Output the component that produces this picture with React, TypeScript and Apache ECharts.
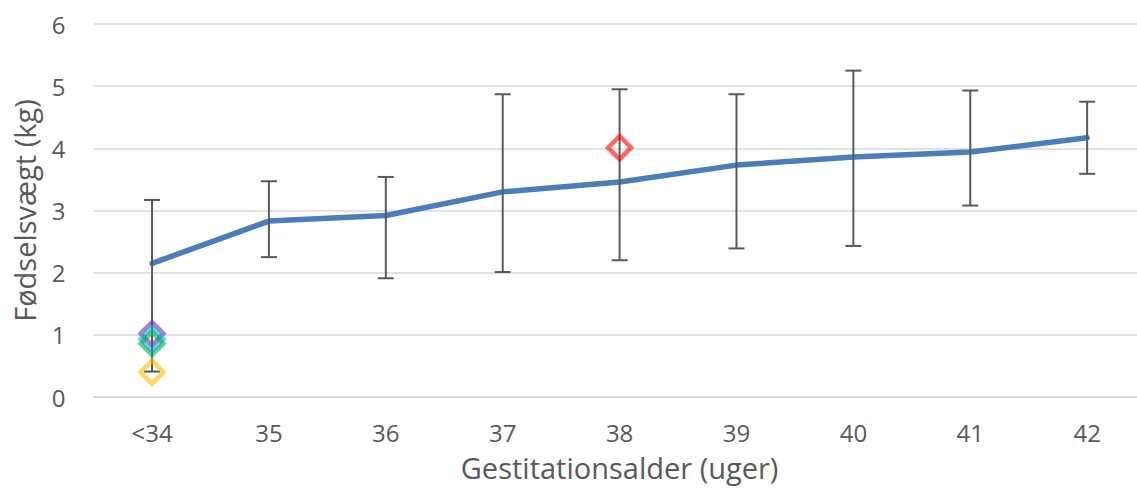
import React, { useEffect, useRef } from "react";
import * as echarts from "echarts";

const categories = ["<34", "35", "36", "37", "38", "39", "40", "41", "42"];
const meanWeight = [2.15, 2.83, 2.92, 3.3, 3.46, 3.73, 3.86, 3.94, 4.17];
const upperWeight = [3.17, 3.47, 3.54, 4.87, 4.95, 4.87, 5.25, 4.93, 4.75];
const lowerWeight = [0.41, 2.25, 1.91, 2.01, 2.2, 2.39, 2.43, 3.08, 3.59];
const yTicks = [0, 1, 2, 3, 4, 5, 6];

const caseCategories = ["<34", "<34", "<34", "<34", "38"];
const caseWeights = [1.02, 0.93, 0.86, 0.4, 4.01];
const caseColors = ["#7030a0", "#00b0f0", "#00b050", "#ffc000", "#ff0000"];

export default function App() {
  const ref = useRef<HTMLDivElement>(null);
  useEffect(() => {
    if (!ref.current) return;
    const chart = echarts.init(ref.current, null, { renderer: "svg" });
    const font = "'Open Sans', 'Noto Sans', sans-serif";
    const errData = categories.map((c, i) => [i, lowerWeight[i], upperWeight[i]]);
    chart.setOption({
      animation: false,
      grid: { left: 93.6, top: 24, width: 1052, height: 373, containLabel: false },
      xAxis: {
        type: "category",
        data: categories,
        boundaryGap: true,
        axisLine: { show: true, lineStyle: { color: "#d9d9d9", width: 1.5 } },
        axisTick: { show: false },
        axisLabel: { color: "#595959", fontSize: 24, fontFamily: font, margin: 23 },
        name: "Gestitationsalder (uger)",
        nameLocation: "middle",
        nameGap: 56,
        nameTextStyle: { color: "#595959", fontSize: 29, fontFamily: font },
      },
      yAxis: {
        type: "value",
        min: yTicks[0],
        max: yTicks[yTicks.length - 1],
        interval: 1,
        axisLine: { show: false },
        axisTick: { show: false },
        splitLine: { lineStyle: { color: "#d9d9d9", width: 1.5 } },
        axisLabel: { color: "#595959", fontSize: 24, fontFamily: font, margin: 28 },
        name: "Fødselsvægt (kg)",
        nameLocation: "middle",
        nameGap: 55,
        nameRotate: 90,
        nameTextStyle: { color: "#595959", fontSize: 29, fontFamily: font },
      },
      series: [
        {
          type: "line",
          data: meanWeight,
          symbol: "none",
          lineStyle: { color: "#4a7ebb", width: 5.5, cap: "round", join: "round" },
          z: 2,
        },
        {
          type: "custom",
          data: errData,
          z: 3,
          renderItem: (params: any, api: any) => {
            const x = api.value(0);
            const lo = api.coord([x, api.value(1)]);
            const hi = api.coord([x, api.value(2)]);
            const w = 8;
            const style = { stroke: "#595959", lineWidth: 2 };
            return {
              type: "group",
              children: [
                { type: "line", shape: { x1: lo[0], y1: lo[1], x2: hi[0], y2: hi[1] }, style },
                { type: "line", shape: { x1: hi[0] - w, y1: hi[1], x2: hi[0] + w, y2: hi[1] }, style },
                { type: "line", shape: { x1: lo[0] - w, y1: lo[1], x2: lo[0] + w, y2: lo[1] }, style },
              ],
            };
          },
        },
        ...caseWeights.map((v, i) => ({
          type: "scatter",
          data: [[caseCategories[i], v]],
          symbol: "diamond",
          symbolSize: 23,
          z: 4,
          itemStyle: {
            color: "rgba(255,255,255,0)",
            borderColor: caseColors[i],
            borderWidth: 4.5,
            opacity: 0.6,
          },
        })),
      ],
    });
    return () => chart.dispose();
  }, []);
  return (
    <div
      style={{ position: "fixed", left: 0, top: 0, width: 1137, height: 494, overflow: "hidden", background: "#fff" }}
    >
      <div ref={ref} style={{ width: 1150, height: 494 }} />
    </div>
  );
}
